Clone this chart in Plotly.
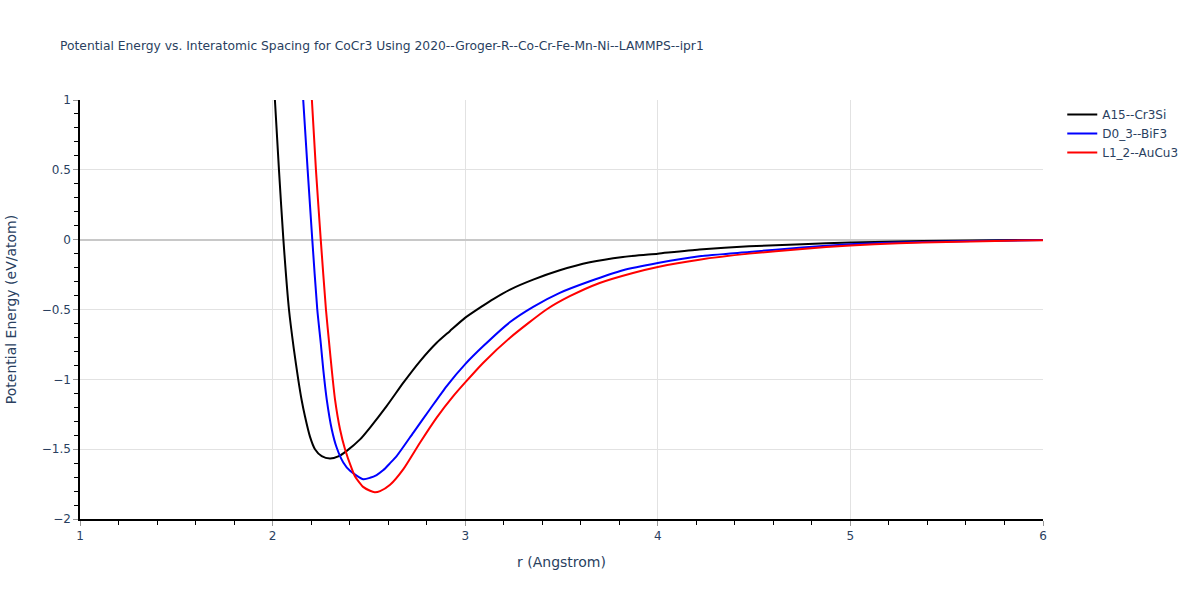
import plotly.graph_objects as go

# A15--Cr3Si
r_a15 = [2.012, 2.033, 2.056, 2.085, 2.11, 2.133, 2.151, 2.168, 2.194, 2.22, 2.255, 2.298,
         2.341, 2.385, 2.454, 2.506, 2.593, 2.679, 2.766, 2.852, 2.92, 2.999, 3.095, 3.146,
         3.233, 3.353, 3.491, 3.647, 3.819, 4.0, 4.216, 4.474, 4.75, 5.0, 5.25, 5.5, 5.75, 6.0]
e_a15 = [1.0, 0.5, 0.0, -0.5, -0.78, -1.0, -1.15, -1.265, -1.41, -1.5, -1.55, -1.567,
         -1.552, -1.512, -1.43, -1.345, -1.19, -1.024, -0.869, -0.738, -0.655, -0.56, -0.47, -0.425,
         -0.357, -0.286, -0.219, -0.162, -0.124, -0.1, -0.071, -0.048, -0.032, -0.02, -0.013, -0.008, -0.004, -0.002]

# D0_3--BiF3
r_d03 = [2.159, 2.182, 2.206, 2.232, 2.25, 2.263, 2.281, 2.307, 2.333, 2.367, 2.402, 2.471,
         2.506, 2.54, 2.575, 2.61, 2.645, 2.731, 2.817, 2.904, 2.999, 3.094, 3.233, 3.353,
         3.491, 3.647, 3.819, 4.0, 4.216, 4.474, 4.75, 5.0, 5.25, 5.5, 5.75, 6.0]
e_d03 = [1.0, 0.5, 0.0, -0.5, -0.74, -0.929, -1.143, -1.357, -1.49, -1.595, -1.655, -1.715,
         -1.705, -1.685, -1.65, -1.6, -1.548, -1.381, -1.214, -1.048, -0.893, -0.762, -0.59, -0.481,
         -0.381, -0.298, -0.219, -0.167, -0.119, -0.088, -0.056, -0.033, -0.021, -0.013, -0.007, -0.003]

# L1_2--AuCu3
r_l12 = [2.204, 2.225, 2.25, 2.277, 2.295, 2.307, 2.324, 2.35, 2.376, 2.411, 2.428, 2.47,
         2.506, 2.53, 2.558, 2.61, 2.679, 2.766, 2.852, 2.939, 2.999, 3.094, 3.233, 3.422,
         3.543, 3.698, 3.871, 4.0, 4.216, 4.474, 4.75, 5.0, 5.25, 5.5, 5.75, 6.0]
e_l12 = [1.0, 0.5, 0.0, -0.5, -0.76, -0.929, -1.143, -1.357, -1.5, -1.64, -1.696, -1.77,
         -1.798, -1.808, -1.8, -1.755, -1.643, -1.452, -1.274, -1.119, -1.024, -0.881, -0.702, -0.5,
         -0.405, -0.31, -0.238, -0.195, -0.143, -0.1, -0.066, -0.041, -0.026, -0.016, -0.009, -0.004]

series = [
    ("A15--Cr3Si", r_a15, e_a15, "black"),
    ("D0_3--BiF3", r_d03, e_d03, "blue"),
    ("L1_2--AuCu3", r_l12, e_l12, "red"),
]

fig = go.Figure()
for name, r, e, color in series:
    fig.add_trace(go.Scatter(x=r, y=e, mode="lines", name=name,
                             line=dict(color=color, width=2, shape="spline", smoothing=0.6)))

axis_style = dict(
    showline=True, linecolor="black", linewidth=1.5,
    ticks="outside", tickcolor="#999", ticklen=5,
    gridcolor="#E2E2E2", zeroline=True, zerolinecolor="#C8C8C8", zerolinewidth=1.5,
    tickfont=dict(size=12), automargin=False,
)

fig.update_layout(
    template="plotly_white",
    width=1200, height=600,
    font=dict(family="DejaVu Sans, Verdana, sans-serif", color="#2a3f5f"),
    margin=dict(l=80, r=157, t=100, b=81),
    title=dict(text="Potential Energy vs. Interatomic Spacing for CoCr3 Using 2020--Groger-R--Co-Cr-Fe-Mn-Ni--LAMMPS--ipr1",
               font=dict(size=12.3)),
    xaxis=dict(title=dict(text="r (Angstrom)", font=dict(size=14)), range=[1, 6], dtick=1,
               minor=dict(ticks="outside", dtick=0.2, ticklen=4, tickcolor="black", showgrid=False),
               **axis_style),
    yaxis=dict(title=dict(text="Potential Energy (eV/atom)", font=dict(size=14), standoff=22),
               range=[-2, 1], dtick=0.5,
               minor=dict(ticks="outside", dtick=0.1, ticklen=4, tickcolor="black", showgrid=False),
               **axis_style),
    legend=dict(font=dict(size=12)),
)

# page body margin off so the figure sits at the window's corner
fig.write_html("out.html", config={"displayModeBar": False},
               post_script="document.body.style.margin='0';")
